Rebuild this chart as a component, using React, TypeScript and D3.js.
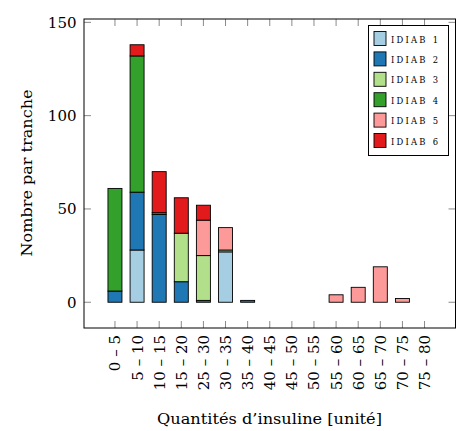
import React from "react";
import * as d3 from "d3";

const categories = ["0 – 5", "5 – 10", "10 – 15", "15 – 20", "25 – 30", "30 – 35", "35 – 40", "40 – 45", "45 – 50", "50 – 55", "55 – 60", "60 – 65", "65 – 70", "70 – 75", "75 – 80"];
const seriesNames = ["IDIAB 1", "IDIAB 2", "IDIAB 3", "IDIAB 4", "IDIAB 5", "IDIAB 6"];
const idiab1 = [0, 28, 0, 0, 0, 27, 0, 0, 0, 0, 0, 0, 0, 0, 0];
const idiab2 = [6, 31, 47, 11, 1, 0, 1, 0, 0, 0, 0, 0, 0, 0, 0];
const idiab3 = [0, 0, 0, 26, 24, 1, 0, 0, 0, 0, 0, 0, 0, 0, 0];
const idiab4 = [55, 73, 1, 0, 0, 0, 0, 0, 0, 0, 0, 0, 0, 0, 0];
const idiab5 = [0, 0, 0, 0, 19, 12, 0, 0, 0, 0, 4, 8, 19, 2, 0];
const idiab6 = [0, 6, 22, 19, 8, 0, 0, 0, 0, 0, 0, 0, 0, 0, 0];
const yTicks = [0, 50, 100, 150];
const colors = ["#a6cee3", "#1f78b4", "#b2df8a", "#33a02c", "#fb9a99", "#e31a1c"];

const W = 465, H = 431;
const L = 84, R = 455.5, T = 19, B = 328;
const FONT = "DejaVu Serif";

export default function App() {
  const seriesValues = [idiab1, idiab2, idiab3, idiab4, idiab5, idiab6];
  const table = categories.map((c, i) => {
    const row: any = { i };
    seriesNames.forEach((s, k) => (row[s] = seriesValues[k][i]));
    return row;
  });
  const stacked = d3.stack<any>().keys(seriesNames)(table);

  const n = categories.length;
  const pad = (n - 1) * 0.1;
  const x = d3.scaleLinear().domain([-pad, n - 1 + pad]).range([L, R]);
  const maxV = d3.max(table, (r: any) => d3.sum(seriesNames, (s) => r[s])) as number;
  const ypad = maxV * 0.1;
  const y = d3.scaleLinear().domain([-ypad, maxV + ypad]).range([B, T]);
  const barW = 14;
  const tickLen = 7;
  const fs = 15;
  const ts = { fontFamily: FONT };

  const legX = 368.5, legY = 25.5, legW = 80, legH = 130;

  return (
    <svg width={W} height={H} style={{ position: "absolute", left: 0, top: 0 }}>
      <rect x={0} y={0} width={W} height={H} fill="white" />
      {stacked.map((layer, k) => (
        <g key={k}>
          {layer.map((d, i) =>
            d[1] - d[0] > 0 ? (
              <rect
                key={i}
                x={x(i) - barW / 2}
                y={y(d[1])}
                width={barW}
                height={y(d[0]) - y(d[1])}
                fill={colors[k]}
                stroke="#000"
                strokeWidth={0.9}
              />
            ) : null
          )}
        </g>
      ))}
      {categories.map((c, i) => (
        <g key={i} stroke="#8a8a8a" strokeWidth={1}>
          <line x1={x(i)} x2={x(i)} y1={B} y2={B - tickLen} />
          <line x1={x(i)} x2={x(i)} y1={T} y2={T + tickLen} />
        </g>
      ))}
      {yTicks.map((v) => (
        <g key={v} stroke="#8a8a8a" strokeWidth={1}>
          <line x1={L} x2={L + tickLen} y1={y(v)} y2={y(v)} />
          <line x1={R} x2={R - tickLen} y1={y(v)} y2={y(v)} />
        </g>
      ))}
      <rect x={L} y={T} width={R - L} height={B - T} fill="none" stroke="#000" strokeWidth={1} />
      {yTicks.map((v) => (
        <text key={v} x={76.5} y={y(v) + 5.5} fontSize={fs} textAnchor="end" fill="#000" style={ts}>
          {v}
        </text>
      ))}
      {categories.map((c, i) => {
        const bx = x(i) + 5.5;
        const by = 335;
        return (
          <text
            key={i}
            x={bx}
            y={by}
            transform={`rotate(-90 ${bx} ${by})`}
            fontSize={fs}
            textAnchor="end"
            fill="#000"
            style={ts}
          >
            {c}
          </text>
        );
      })}
      <text x={269.5} y={424} fontSize={fs} textAnchor="middle" textLength={225} lengthAdjust="spacingAndGlyphs" fill="#000" style={ts}>
        Quantités d’insuline [unité]
      </text>
      <text
        x={32}
        y={173}
        transform={`rotate(-90 32 173)`}
        fontSize={fs}
        textAnchor="middle"
        textLength={167}
        lengthAdjust="spacingAndGlyphs"
        fill="#000"
        style={ts}
      >
        Nombre par tranche
      </text>
      <rect x={legX} y={legY} width={legW} height={legH} fill="white" stroke="#000" strokeWidth={1} />
      {seriesNames.map((s, k) => {
        const cy = 38.5 + k * 20.4;
        return (
          <g key={s}>
            <rect x={374} y={cy - 7} width={12} height={14} fill={colors[k]} stroke="#000" strokeWidth={0.9} />
            <text x={391} y={cy + 4} fontSize={8.4} textLength={47} lengthAdjust="spacing" fill="#000" style={ts}>
              {s}
            </text>
          </g>
        );
      })}
    </svg>
  );
}
